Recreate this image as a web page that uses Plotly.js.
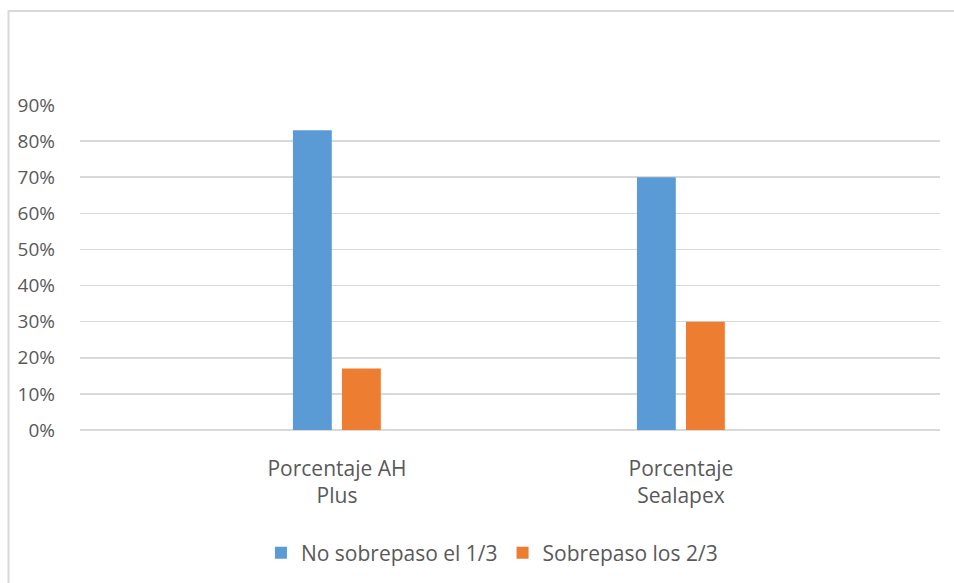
<!DOCTYPE html>
<html>
<head>
<meta charset="utf-8">
<script src="https://cdn.plot.ly/plotly-3.0.1.min.js"></script>
<style>
html,body{margin:0;padding:0;background:#fff;}
#chart{width:954px;height:583px;}
</style>
</head>
<body>
<div id="chart"></div>
<script>
var categories = ["Porcentaje AH<br>Plus", "Porcentaje<br>Sealapex"];
var seriesNames = ["No sobrepaso el 1/3", "Sobrepaso los 2/3"];
var noSobrepaso = [83, 70];
var sobrepaso = [17, 30];
var yTickVals = [0, 10, 20, 30, 40, 50, 60, 70, 80, 90];
var yTickText = ["0%", "10%", "20%", "30%", "40%", "50%", "60%", "70%", "80%", "90%"];

var fam = "'Open Sans', Lato, sans-serif";
var grey = "#595959";

var traces = [
  {type: "bar", name: seriesNames[0], x: categories, y: noSobrepaso,
   marker: {color: "#5b9bd5"}, width: 0.113, offset: -0.128, hoverinfo: "y"},
  {type: "bar", name: seriesNames[1], x: categories, y: sobrepaso,
   marker: {color: "#ed7d31"}, width: 0.113, offset: 0.0145, hoverinfo: "y"}
];

var layout = {
  width: 954, height: 583,
  margin: {l: 80, r: 14, t: 105, b: 153},
  paper_bgcolor: "#ffffff", plot_bgcolor: "#ffffff",
  font: {family: fam, size: 19, color: grey},
  barmode: "overlay",
  showlegend: true,
  legend: {orientation: "h", x: 0.479, xanchor: "center", yref: "container",
           y: 30 / 583, yanchor: "middle",
           font: {family: fam, size: 21, color: grey}, traceorder: "normal", itemwidth: 30},
  xaxis: {type: "category", range: [-0.747, 1.753], showgrid: false, zeroline: false,
          showline: false, ticks: "", tickfont: {family: fam, size: 21, color: grey},
          ticklabelstandoff: 24, fixedrange: true, automargin: false},
  yaxis: {range: [0, 90], tickvals: yTickVals, ticktext: yTickText, showgrid: true,
          gridcolor: "#d9d9d9", gridwidth: 1.5, zeroline: true, zerolinecolor: "#d9d9d9",
          zerolinewidth: 1.5, showline: false, ticks: "", tickfont: {family: fam, size: 19, color: grey},
          ticklabelstandoff: 24, fixedrange: true, automargin: false},
  shapes: [{type: "rect", xref: "paper", yref: "paper",
            x0: (8.5 - 80) / 860, x1: (960 - 80) / 860,
            y0: (430 - 590) / 325, y1: (430 - 11) / 325,
            line: {color: "#d9d9d9", width: 2}, fillcolor: "rgba(0,0,0,0)", layer: "below"}]
};

Plotly.newPlot("chart", traces, layout, {displayModeBar: false, staticPlot: true});
</script>
</body>
</html>
